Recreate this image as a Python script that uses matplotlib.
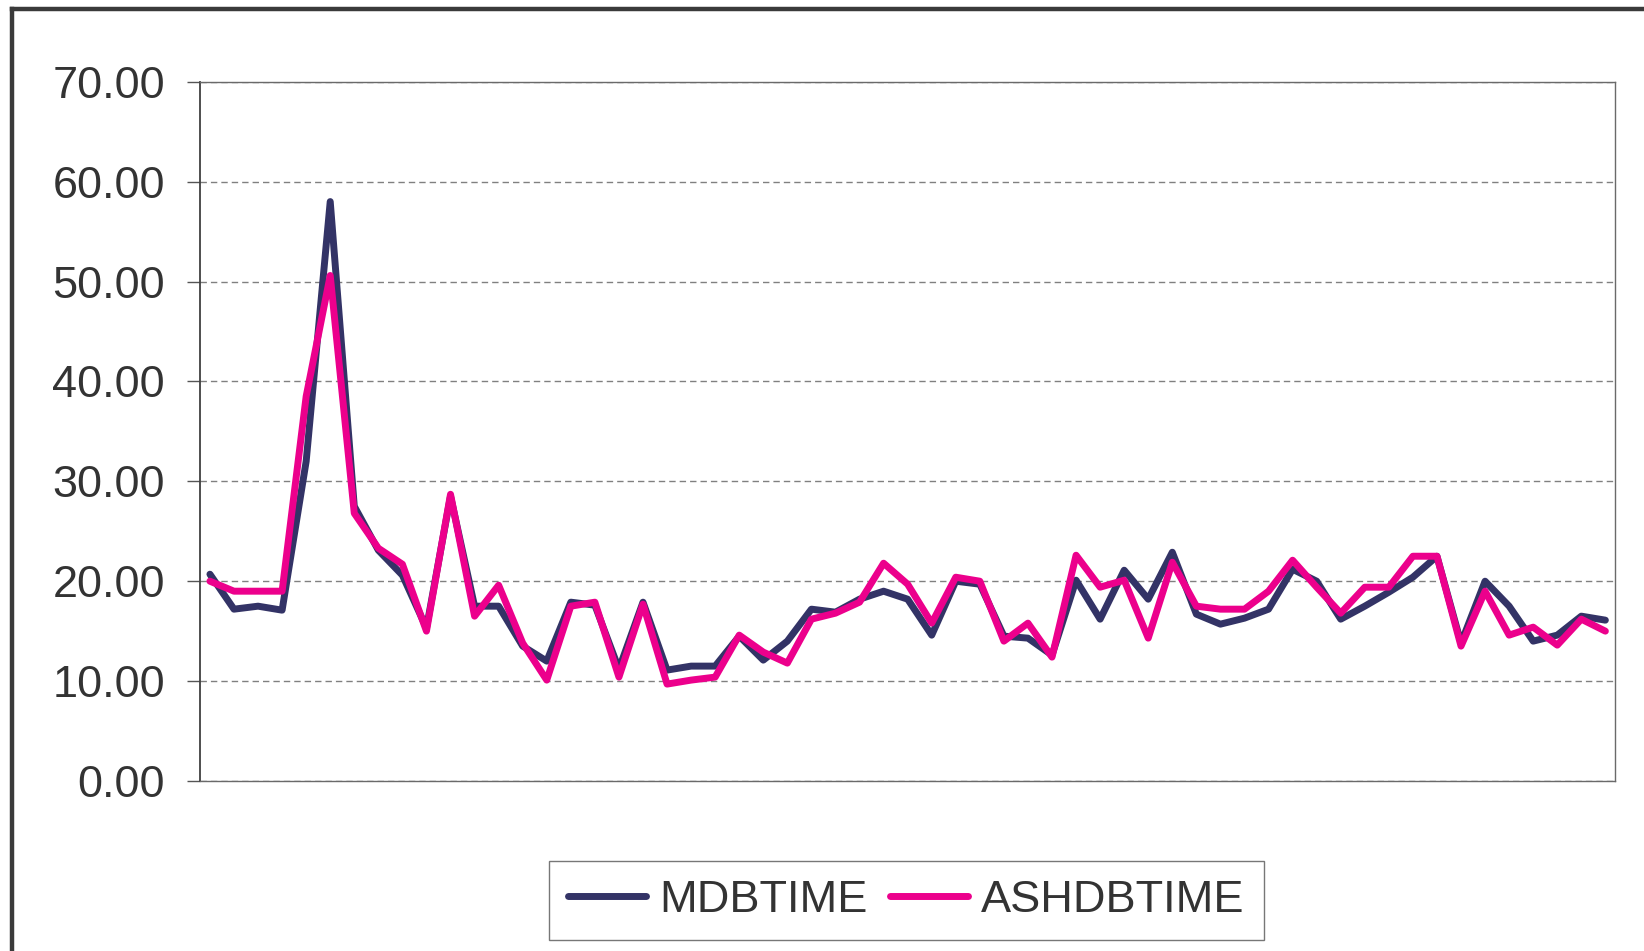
import numpy as np
import matplotlib
matplotlib.use("Agg")
import matplotlib.pyplot as plt
from matplotlib.lines import Line2D

plt.rcParams['font.family'] = ['Liberation Sans', 'DejaVu Sans']

# Sample values per snapshot
mdbtime = [20.7, 17.2, 17.5, 17.1, 32.0, 58.0, 27.5, 23.1, 20.6, 15.3,
           28.5, 17.5, 17.5, 13.5, 12.0, 17.9, 17.6, 11.2, 17.9, 11.1,
           11.5, 11.5, 14.5, 12.1, 14.0, 17.2, 16.9, 18.2, 19.0, 18.2,
           14.6, 20.0, 19.7, 14.5, 14.3, 12.6, 20.1, 16.2, 21.1, 18.2,
           22.9, 16.7, 15.7, 16.3, 17.2, 21.2, 20.0, 16.2, 17.5, 18.9,
           20.4, 22.5, 13.8, 20.0, 17.5, 14.0, 14.6, 16.5, 16.1]
ashdbtime = [20.0, 19.0, 19.0, 19.0, 38.5, 50.6, 26.8, 23.3, 21.7, 15.0,
             28.7, 16.5, 19.6, 13.8, 10.1, 17.5, 17.9, 10.4, 17.7, 9.7,
             10.1, 10.4, 14.6, 12.9, 11.8, 16.2, 16.8, 17.9, 21.8, 19.7,
             15.8, 20.4, 20.0, 14.0, 15.8, 12.4, 22.6, 19.4, 20.1, 14.3,
             21.9, 17.5, 17.2, 17.2, 19.0, 22.1, 19.4, 16.8, 19.4, 19.4,
             22.5, 22.5, 13.5, 19.0, 14.6, 15.4, 13.6, 16.2, 15.0]
series_names = ["MDBTIME", "ASHDBTIME"]
series_colors = ["#333366", "#EC008C"]
y_ticks = [0, 10, 20, 30, 40, 50, 60, 70]

W, H, DPI = 1644, 951, 100
fig = plt.figure(figsize=(W / DPI, H / DPI), dpi=DPI, facecolor="white")

# outer chart frame (right and bottom edges run off the canvas)
fx0, fy0 = 11.5 / W, 1 - 8.5 / H
fig.add_artist(Line2D([fx0, 1.01], [fy0, fy0], transform=fig.transFigure,
                      color="#3a3a3a", lw=3.2))
fig.add_artist(Line2D([fx0, fx0], [fy0, -0.01], transform=fig.transFigure,
                      color="#3a3a3a", lw=3.2))

left, right = 200.3 / W, 1615 / W
top, bottom = 1 - 81.7 / H, 1 - 781 / H
ax = fig.add_axes([left, bottom, right - left, top - bottom])

x = np.arange(len(mdbtime))
for vals, name, col in zip([mdbtime, ashdbtime], series_names, series_colors):
    ax.plot(x, vals, color=col, lw=5.0, label=name,
            solid_joinstyle="round", solid_capstyle="round", zorder=3)

ax.set_xlim(-0.4, len(x) - 1 + 0.4)
ax.set_ylim(0, 70)
ax.set_yticks(y_ticks)
ax.set_yticklabels([f"{v:.2f}" for v in y_ticks])
ax.set_xticks([])

ax.yaxis.grid(True, color="#808080", lw=1.0, linestyle=(0, (4.6, 2.9)), zorder=1)
ax.set_axisbelow(True)

for side, sp in ax.spines.items():
    sp.set_color("#6a6a6a")
    sp.set_linewidth(1.0)
ax.spines["left"].set_color("#404040")
ax.spines["left"].set_linewidth(1.3)

ax.tick_params(axis="y", direction="out", length=9.5, width=1.0,
               color="#555555", pad=16, labelsize=32.5, labelcolor="#333333")

handles, labels = ax.get_legend_handles_labels()
leg = fig.legend(handles, labels, ncol=2, loc="center",
                 bbox_to_anchor=((547 + 1266) / 2 / W, 1 - 900.5 / H),
                 prop={"family": "Liberation Sans", "size": 32.5},
                 frameon=True, fancybox=False, edgecolor="#555555",
                 handlelength=1.72, handletextpad=0.3, columnspacing=0.5,
                 borderpad=0.42, borderaxespad=0)
leg.get_frame().set_linewidth(1.0)
for t in leg.get_texts():
    t.set_color("#333333")
for h in leg.get_lines():
    h.set_linewidth(5.0)
    h.set_solid_capstyle("round")

fig.savefig("out.png", dpi=DPI, facecolor="white")
